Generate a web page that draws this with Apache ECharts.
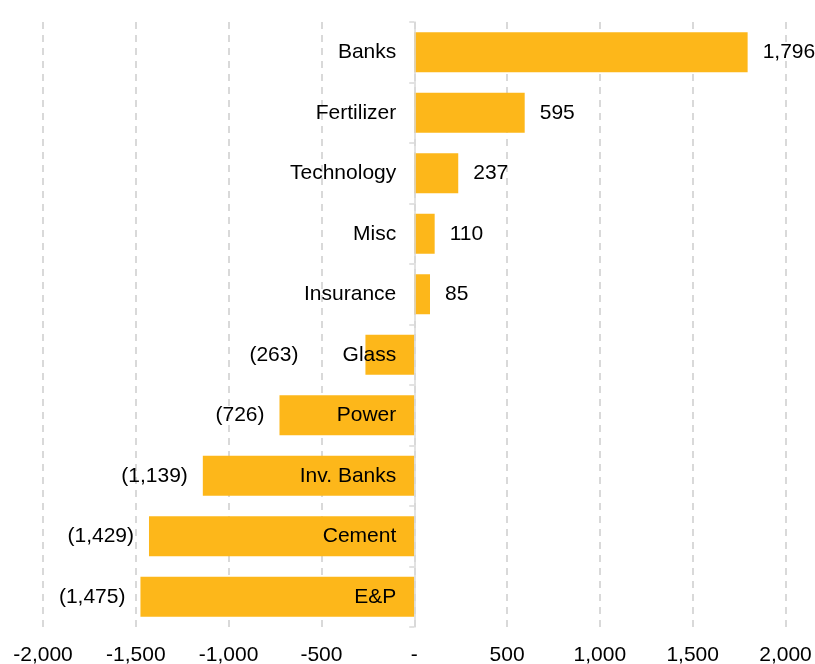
<!DOCTYPE html>
<html>
<head>
<meta charset="utf-8">
<script src="https://cdn.jsdelivr.net/npm/echarts@6/dist/echarts.min.js"></script>
<style>
html,body{margin:0;padding:0;background:#fff;}
#chart{width:815px;height:664px;}
</style>
</head>
<body>
<div id="chart"></div>
<script>
var categories = ['Banks','Fertilizer','Technology','Misc','Insurance','Glass','Power','Inv. Banks','Cement','E&P'];
var values = [1796, 595, 237, 110, 85, -263, -726, -1139, -1429, -1475];
var xTicks = [-2000, -1500, -1000, -500, 0, 500, 1000, 1500, 2000];

function fmt(n){
  return Math.abs(n).toString().replace(/\B(?=(\d{3})+(?!\d))/g, ',');
}

var W = 815, gridLeft = 43, gridRight = 29.5;
var xMin = xTicks[0], xMax = xTicks[xTicks.length - 1];
var zeroOffset = -(W - gridLeft - gridRight) * (0 - xMin) / (xMax - xMin);

var chart = echarts.init(document.getElementById('chart'));
var font = '"Liberation Sans", Arial, sans-serif';
var fs = 21;
chart.setOption({
  animation: false,
  grid: {left: gridLeft, right: gridRight, top: 22, bottom: 37, containLabel: false, outerBoundsMode: 'none'},
  xAxis: {
    type: 'value',
    min: xMin,
    max: xMax,
    interval: 500,
    axisLine: {show: false},
    axisTick: {show: false},
    splitLine: {show: true, lineStyle: {color: '#d9d9d9', type: [7, 6], width: 2}},
    axisLabel: {
      color: '#000', fontSize: fs, fontFamily: font, margin: 18,
      formatter: function(v){ return v === 0 ? '-' : (v < 0 ? '-' : '') + fmt(v); }
    }
  },
  yAxis: {
    type: 'category',
    data: categories,
    inverse: true,
    position: 'left',
    offset: zeroOffset,
    z: 10,
    axisLine: {show: true, onZero: false, lineStyle: {color: '#d9d9d9', width: 1.5}},
    axisTick: {show: true, length: 5, lineStyle: {color: '#d9d9d9', width: 1.5}},
    axisLabel: {color: '#000', fontSize: fs, fontFamily: font, margin: 18},
    splitLine: {show: false}
  },
  series: [{
    type: 'bar',
    barWidth: 40,
    itemStyle: {color: '#FDB71A'},
    data: values.map(function(v, i){
      var lab = {position: v < 0 ? 'left' : 'right'};
      if (categories[i] === 'Glass') lab.distance = 67;
      return {value: v, label: lab};
    }),
    label: {
      show: true,
      distance: 15,
      color: '#000',
      fontSize: fs,
      fontFamily: font,
      formatter: function(p){ return p.value < 0 ? '(' + fmt(p.value) + ')' : fmt(p.value); }
    }
  }]
});
</script>
</body>
</html>
